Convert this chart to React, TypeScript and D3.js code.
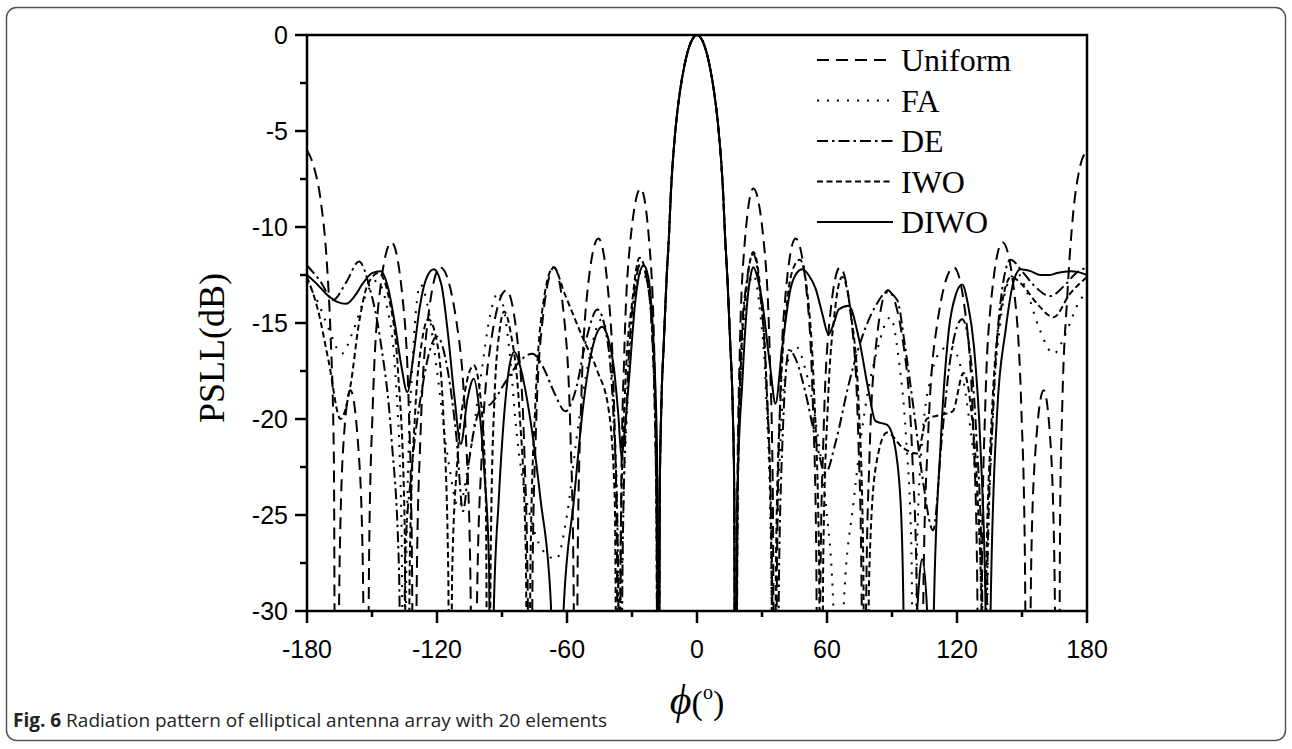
import React from 'react';
import * as d3 from 'd3';

// angle ticks (deg) and level ticks (dB)
const phiMajor = [-180, -120, -60, 0, 60, 120, 180];
const phiMinor = [-150, -90, -30, 30, 90, 150];
const dbMajor = [0, -5, -10, -15, -20, -25, -30];
const dbMinor = [-2.5, -7.5, -12.5, -17.5, -22.5, -27.5];

const legendNames = ['Uniform', 'FA', 'DE', 'IWO', 'DIWO'];

// main beam, common to every pattern
const mainLobe = [
  [-17.2, -24], [-16.5, -19.5], [-15.3, -16], [-14, -12.6], [-13, -10.6], [-12, -8.1], [-10, -5], [-8, -3.05],
  [-6, -1.7], [-4, -0.75], [-2, -0.19], [0, 0], [2, -0.19], [4, -0.75], [6, -1.7], [8, -3.05], [10, -5],
  [12, -8.1], [13, -10.6], [14, -12.6], [15.3, -16], [16.5, -19.5], [17.2, -24],
];

const uniformLeft = [
  [-180, -6], [-176.5, -7], [-173.7, -8.6], [-170.7, -12.1], [-169.2, -15.4], [-167.6, -22], [-166.8, -45],
  [-164.9, -27.2], [-163.3, -21.5], [-160, -18.5], [-156.3, -21.5], [-154.3, -27.2], [-152.5, -45],
  [-151.3, -26.8], [-149.7, -19.5], [-146.8, -13.8], [-141, -10.8], [-135.8, -13.8], [-133, -19.5], [-131.6, -26.8], [-130.5, -45],
  [-129.3, -28.1], [-127.6, -20.8], [-124.5, -15.1], [-118.5, -12.1], [-110.8, -15.1], [-106.7, -20.8], [-104.6, -28.1], [-103, -45],
  [-101.5, -29.3], [-99.4, -22], [-95.5, -16.3], [-88, -13.3], [-82.5, -16.3], [-79.6, -22], [-78.1, -29.3], [-77, -45],
  [-75.9, -28.1], [-74.4, -20.8], [-71.5, -15.1], [-66, -12.1], [-61, -15.1], [-58.4, -20.8], [-57, -28.1], [-56, -45],
  [-55, -26.6], [-53.5, -19.3], [-50.8, -13.6], [-45.5, -10.6], [-40.8, -13.6], [-38.3, -19.3], [-37, -26.6], [-36, -45],
  [-35, -24], [-33.6, -16.7], [-31, -11], [-26, -8], [-21.9, -11], [-19.7, -16.7], [-18.6, -24], [-17.8, -45],
];
const uniformRight = [
  [17.8, -45], [18.6, -24], [19.7, -16.7], [21.9, -11], [26, -8], [31, -11], [33.6, -16.7], [35, -24], [36, -45],
  [37, -26.6], [38.3, -19.3], [40.8, -13.6], [45.5, -10.6], [50.8, -13.6], [53.5, -19.3], [55, -26.6], [56, -45],
  [57, -28.1], [58.4, -20.8], [61, -15.1], [66, -12.1], [71.5, -15.1], [74.4, -20.8], [75.9, -28.1], [77, -45],
  [78.1, -29.3], [79.6, -22], [82.5, -16.3], [88, -13.3], [95.5, -16.3], [99.4, -22], [101.5, -29.3], [103, -45],
  [104.6, -28.1], [106.7, -20.8], [110.8, -15.1], [118.5, -12.1], [124.5, -15.1], [127.6, -20.8], [129.3, -28.1], [130.5, -45],
  [131.6, -26.8], [133, -19.5], [135.8, -13.8], [141, -10.8], [146.8, -13.8], [149.7, -19.5], [151.3, -26.8], [152.5, -45],
  [154.3, -27.2], [156.3, -21.5], [160, -18.5], [163.3, -21.5], [164.9, -27.2], [166.8, -45],
  [167.6, -25], [168.5, -19.7], [170.9, -13.6], [173.6, -9.3], [176.5, -7], [180, -6],
];

const faLeft = [
  [-180, -12.9], [-175, -13.9], [-170, -15.3], [-164, -16.6], [-159, -15.5], [-153, -13.6], [-148, -12.8], [-143, -14.2],
  [-139, -18], [-136.3, -26], [-135.3, -45], [-134, -26], [-131, -16.5], [-127.6, -13], [-124, -14.3], [-120, -17.5],
  [-115, -22], [-110, -24.6], [-105, -22], [-100, -18], [-95.5, -14.6], [-91.6, -13.4], [-87, -16], [-83, -21],
  [-76, -25.5], [-70, -27], [-65, -27.3], [-60, -25], [-55, -20.5], [-50, -17], [-44, -14.8], [-40.5, -16.5],
  [-38, -20.5], [-36.4, -28], [-35.6, -45], [-34.6, -28], [-32, -19], [-29, -14], [-25.5, -12.3], [-22, -13.5],
  [-19.8, -18], [-18.5, -26], [-17.8, -45],
];
const faRight = [
  [17.8, -45], [18.6, -26], [20.2, -18], [23, -13.8], [26, -12.5], [29, -14.3], [32, -19], [34.3, -28], [35.5, -45],
  [36.8, -28], [38.8, -20.5], [41.5, -17.2], [45.5, -16.2], [50, -17.4], [55, -20.3], [59.5, -24.5], [63, -30], [65.4, -45],
  [67.6, -30], [72.4, -24.2], [77, -19.9], [83.2, -16.4], [89.3, -14.7], [93, -16.8], [96.5, -21], [99, -27], [100.2, -45],
  [101.5, -27], [104, -21], [108, -17.8], [113, -16.4], [117, -16.2], [121, -17], [125, -19.5], [129, -24], [131.5, -30],
  [132.5, -45], [134.2, -28], [136.5, -20], [140, -15], [144, -12.8], [147.8, -12.4], [152, -13.3], [158, -15.3],
  [164.6, -16.6], [170, -15.6], [175, -14.2], [180, -13.3],
];

const deLeft = [
  [-180, -12], [-174, -12.8], [-168, -13.8], [-162, -12.9], [-156, -11.8], [-151, -13.2], [-146, -16], [-141, -21],
  [-137.5, -28], [-136, -45], [-134.6, -27], [-132, -23], [-127, -18.5], [-120, -15.7], [-115, -17.5], [-111, -21],
  [-108, -24.8], [-105, -22], [-100, -19.5], [-95, -19.2], [-88, -18], [-81, -16.9], [-76, -16.6], [-71, -17.3],
  [-66, -18.6], [-60.7, -19.6], [-56, -18.5], [-51, -15.8], [-46, -14.3], [-42, -15.5], [-38.5, -20], [-36.5, -27],
  [-35.5, -45], [-34.3, -27], [-32, -18], [-29, -13.5], [-26, -11.9], [-23, -12.8], [-20.5, -16], [-18.8, -24], [-17.8, -45],
];
const deRight = [
  [17.8, -45], [18.8, -24], [20.5, -16], [23, -12.8], [26, -11.4], [29, -13.3], [32, -18], [34.5, -27], [36.2, -45],
  [38, -27], [39.5, -21], [41, -17.6], [42.4, -16.4], [46, -17], [50, -18.6], [55, -21.2], [59.3, -22.8], [64, -21.2],
  [70, -18.2], [76, -15.8], [82, -14.2], [87.8, -13.4], [92.4, -13.8], [96, -16.2], [100, -19.5], [104, -23], [109, -25.8],
  [113, -21], [117, -16.8], [122.4, -14.8], [126, -16.5], [129, -21], [131.5, -28], [132.8, -45], [134, -28], [136.5, -20],
  [139.5, -14.5], [144.7, -11.7], [150, -12.3], [156, -13.1], [163, -13.6], [170, -13], [175, -12.4], [180, -12.1],
];

const iwoLeft = [
  [-180, -12.6], [-175, -14.3], [-170, -17], [-164.5, -20], [-160, -18.3], [-156, -15], [-152, -13], [-147, -12.4],
  [-142, -13.8], [-138, -17.5], [-135, -25], [-133.8, -45], [-132.5, -27], [-130, -19.5], [-127, -16], [-124, -14.8],
  [-120, -16], [-117, -20], [-114.8, -28], [-114, -45], [-113, -28], [-110.5, -22], [-107, -18.5], [-103, -17.2],
  [-100, -18.8], [-97.5, -24], [-96.3, -45], [-95.2, -27], [-93.5, -19], [-91, -15.3], [-89, -14.4], [-86, -15.5],
  [-82, -19.5], [-79, -27], [-78, -45], [-76.8, -27], [-74.5, -19], [-71, -14], [-66.2, -12.1], [-61, -13.5],
  [-53, -15.7], [-46, -17.5], [-40.8, -19.5], [-38, -24], [-36.5, -45], [-35.3, -27], [-33, -18], [-30, -14],
  [-26.5, -11.6], [-23, -12.8], [-20.5, -16], [-18.8, -24], [-17.8, -45],
];
const iwoRight = [
  [17.8, -45], [18.7, -25], [20.3, -17], [23, -13], [26, -11.3], [29, -13], [32, -18], [34.3, -27], [35.3, -45],
  [36.5, -27], [38.5, -19], [41.5, -14], [45, -12], [47.5, -11.7], [51, -13.5], [54, -18.5], [56.3, -27], [57.3, -45],
  [58.3, -27], [60.5, -19], [63.5, -14.5], [67, -12.6], [71, -14.5], [74.5, -19], [76.7, -27], [77.8, -45],
  [79.5, -28], [82.5, -22.5], [87.7, -20.7], [95, -21.5], [101.7, -21.8], [106, -20], [112, -19.8], [118, -19.6],
  [123, -17.6], [126.5, -19.5], [129.5, -24], [131.3, -30], [132.3, -45], [133.5, -28], [136, -20], [140, -14.5],
  [145, -12.6], [150, -13], [157, -14], [164.6, -14.7], [172, -13.5], [180, -12.6],
];

const diwoLeft = [
  [-180, -12.5], [-176, -12.9], [-171, -13.5], [-166, -13.9], [-162, -14], [-158, -13.6], [-154, -12.9], [-150, -12.4],
  [-146, -12.3], [-142.5, -13.2], [-139.5, -15], [-136.5, -17.2], [-133.7, -18.6], [-131, -16.8], [-128, -14.2],
  [-125, -12.7], [-121.5, -12.2], [-118, -13], [-115, -15.5], [-112, -18.8], [-109, -21.3], [-106, -19], [-103, -17.9],
  [-100.5, -19.5], [-98, -23], [-96, -27.5], [-95, -45], [-93.8, -30], [-91.5, -24.2], [-88.4, -19], [-86.5, -17.2],
  [-84.3, -16.5], [-81.5, -17.3], [-78.4, -19], [-72.2, -24.2], [-67.5, -29.5], [-64.5, -45], [-61.6, -30], [-56.8, -24.2],
  [-52.2, -19], [-47.6, -16], [-43.8, -15.2], [-41, -15.8], [-38.4, -17.3], [-36.3, -19.8], [-34.8, -22], [-33.3, -20.5],
  [-31.5, -18.1], [-28.4, -13.8], [-26.5, -12.4], [-24.6, -12], [-22.5, -12.6], [-20.7, -14.7], [-19.3, -18], [-18.3, -23],
  [-17.8, -45],
];
const diwoRight = [
  [17.8, -45], [18.6, -24], [20.9, -18.1], [23.2, -13.9], [24.8, -12.5], [26, -12.1], [27.6, -12.5], [30.1, -13.9],
  [33.9, -17.4], [36.2, -19.2], [39.3, -16.3], [43.2, -13.2], [46, -12.4], [48.6, -12.2], [51.5, -12.5], [54.7, -13.2],
  [57.8, -14.5], [60.7, -15.6], [63.2, -15], [65.4, -14.3], [70, -14.1], [74.7, -15.8], [79.3, -18.6], [82.3, -20.1],
  [84.7, -20.2], [87.8, -20.3], [90.8, -21.1], [93.9, -24.2], [95.3, -30], [96.5, -45], [101.6, -30], [103.9, -27.3],
  [106.2, -30], [107.3, -45], [109.3, -30], [112.4, -21.4], [116.2, -15.4], [119.5, -13.5], [122.4, -13], [125, -14],
  [127.8, -16.2], [130.8, -21.4], [133.2, -30], [134.2, -45], [135.5, -30], [138.5, -19.7], [142.4, -15.4], [146.2, -12.8],
  [149.3, -12.2], [153.9, -12.3], [158.5, -12.5], [163, -12.5], [166.2, -12.4], [172.4, -12.3], [176, -12.35], [180, -12.5],
];

const series = [
  { name: 'Uniform', pts: [...uniformLeft, ...mainLobe, ...uniformRight], dash: '12,7' },
  { name: 'FA', pts: [...faLeft, ...mainLobe, ...faRight], dash: '2,8' },
  { name: 'DE', pts: [...deLeft, ...mainLobe, ...deRight], dash: '11,4,2.5,4' },
  { name: 'IWO', pts: [...iwoLeft, ...mainLobe, ...iwoRight], dash: '6,3.5' },
  { name: 'DIWO', pts: [...diwoLeft, ...mainLobe, ...diwoRight], dash: null },
];

const X0 = 307, X1 = 1087, Y0 = 35, Y1 = 611;

export default function App() {
  const x = d3.scaleLinear().domain([-180, 180]).range([X0, X1]);
  const y = d3.scaleLinear().domain([-30, 0]).range([Y1, Y0]);
  const line = d3.line<number[]>().x((d) => x(d[0])).y((d) => y(d[1])).curve(d3.curveMonotoneX);

  const tickFont = '"Liberation Sans", Arial, sans-serif';
  const serif = '"Liberation Serif", "Times New Roman", serif';

  return (
    <svg width={1292} height={749} style={{ position: 'absolute', left: 0, top: 0, background: '#fff' }}>
      <rect x={6.5} y={7.5} width={1279} height={733} rx={10} fill="none" stroke="#555" strokeWidth={1.5} />

      <defs>
        <clipPath id="plot">
          <rect x={X0} y={Y0 - 2} width={X1 - X0} height={Y1 - Y0 + 2} />
        </clipPath>
      </defs>

      <g clipPath="url(#plot)" fill="none" stroke="#000" strokeWidth={2}>
        {series.map((s) => (
          <path key={s.name} d={line(s.pts) || ''} strokeDasharray={s.dash || undefined} />
        ))}
      </g>

      {/* frame */}
      <rect x={X0} y={Y0} width={X1 - X0} height={Y1 - Y0} fill="none" stroke="#000" strokeWidth={2.5} />

      {/* y axis */}
      {dbMajor.map((v) => (
        <g key={'ym' + v}>
          <line x1={X0 - 12} x2={X0} y1={y(v)} y2={y(v)} stroke="#000" strokeWidth={2.5} />
          <text x={X0 - 19} y={y(v) + 9} textAnchor="end" fontFamily={tickFont} fontSize={25}>{v}</text>
        </g>
      ))}
      {dbMinor.map((v) => (
        <line key={'yn' + v} x1={X0 - 7} x2={X0} y1={y(v)} y2={y(v)} stroke="#000" strokeWidth={2.5} />
      ))}

      {/* x axis */}
      {phiMajor.map((v) => (
        <g key={'xm' + v}>
          <line x1={x(v)} x2={x(v)} y1={Y1} y2={Y1 + 12} stroke="#000" strokeWidth={2.5} />
          <text x={x(v)} y={Y1 + 47} textAnchor="middle" fontFamily={tickFont} fontSize={25}>{v}</text>
        </g>
      ))}
      {phiMinor.map((v) => (
        <line key={'xn' + v} x1={x(v)} x2={x(v)} y1={Y1} y2={Y1 + 6} stroke="#000" strokeWidth={2.5} />
      ))}

      <text transform="translate(224,348) rotate(-90)" textAnchor="middle" fontFamily={serif} fontSize={36}>PSLL(dB)</text>

      <text x={697} y={714} textAnchor="middle" fontFamily={serif}>
        <tspan fontStyle="italic" fontSize={42}>ϕ</tspan>
        <tspan fontSize={34}>(</tspan>
        <tspan fontSize={20} dy={-15}>o</tspan>
        <tspan fontSize={34} dy={15}>)</tspan>
      </text>

      {/* legend */}
      {series.map((s, i) => (
        <g key={'lg' + s.name}>
          <line x1={817} x2={893} y1={60 + i * 40.5} y2={60 + i * 40.5} stroke="#000" strokeWidth={2}
            strokeDasharray={s.dash || undefined} />
          <text x={901} y={71 + i * 40.5} fontFamily={serif} fontSize={32}>{legendNames[i]}</text>
        </g>
      ))}

      <text x={13} y={727} fontFamily='"Open Sans", "Noto Sans", sans-serif' fontSize={19} fill="#222">
        <tspan fontWeight="bold">Fig. 6</tspan> Radiation pattern of elliptical antenna array with 20 elements
      </text>
    </svg>
  );
}
